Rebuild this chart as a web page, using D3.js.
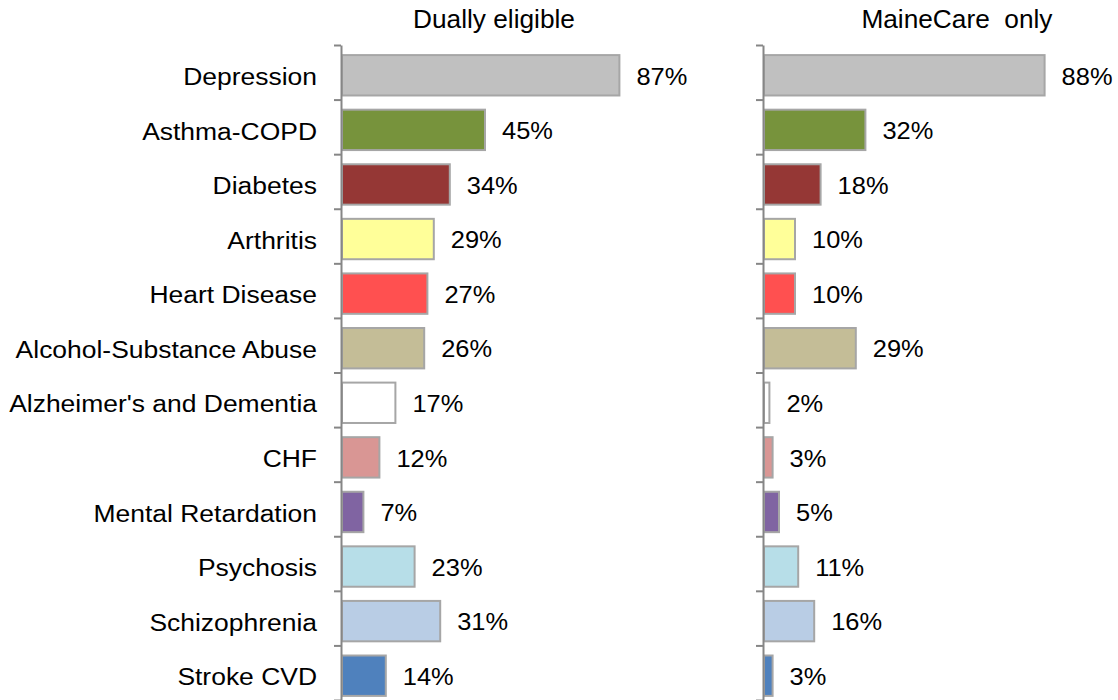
<!DOCTYPE html>
<html>
<head>
<meta charset="utf-8">
<script src="https://cdn.jsdelivr.net/npm/d3@7"></script>
<style>
  body { margin: 0; background: #fff; }
  text { font-family: Arial, "Liberation Sans", sans-serif; fill: #000; white-space: pre; }
</style>
</head>
<body>
<div id="main-chart"></div>
<script>
const categories = [
  "Depression",
  "Asthma-COPD",
  "Diabetes",
  "Arthritis",
  "Heart Disease",
  "Alcohol-Substance Abuse",
  "Alzheimer's and Dementia",
  "CHF",
  "Mental Retardation",
  "Psychosis",
  "Schizophrenia",
  "Stroke CVD",
];
const duallyEligible = [87, 45, 34, 29, 27, 26, 17, 12, 7, 23, 31, 14];
const maineCareOnly = [88, 32, 18, 10, 10, 29, 2, 3, 5, 11, 16, 3];
const barColors = [
  "#c0c0c0", "#77933c", "#953735", "#ffff99", "#ff5050", "#c4bd97",
  "#ffffff", "#d99694", "#8064a2", "#b7dee8", "#b9cde5", "#4f81bd",
];
const panelTitles = ["Dually eligible", "MaineCare  only"];

const width = 1118;
const height = 700;

const svg = d3
  .select("#main-chart")
  .append("svg")
  .attr("width", width)
  .attr("height", height);

const yBand = d3
  .scaleBand()
  .domain(categories)
  .range([45, 700])
  .paddingInner(0.26)
  .paddingOuter(0.13);

const yMid = (c) => yBand(c) + yBand.bandwidth() / 2 + 4;

// boundaries between rows for the axis ticks
const yIndex = d3.scaleLinear().domain([0, categories.length]).range([45, 700]);

const drawPanel = (values, axisX, title, titleAt) => {
  const x = d3.scaleLinear().domain([0, 100]).range([axisX, axisX + 320]);

  const g = svg.append("g");

  g.selectAll(".bar")
    .data(values)
    .join("rect")
    .attr("class", "bar")
    .attr("x", x(0) + 1)
    .attr("y", (d, i) => yBand(categories[i]) + 3)
    .attr("width", (d) => Math.max(x(d) - x(0) - 1, 2))
    .attr("height", yBand.bandwidth())
    .attr("fill", (d, i) => barColors[i])
    .attr("stroke", "#a6a6a6")
    .attr("stroke-width", 2);

  g.selectAll(".value")
    .data(values)
    .join("text")
    .attr("class", "value")
    .attr("transform", (d, i) => `translate(${x(d) + 17}, ${yMid(categories[i])}) scale(1.06, 1)`)
    .attr("dominant-baseline", "central")
    .attr("font-size", 24)
    .text((d) => d + "%");

  const axis = d3
    .axisLeft(yIndex)
    .tickValues(d3.range(0, categories.length + 1))
    .tickSize(7)
    .tickSizeOuter(0)
    .tickFormat("");

  g.append("g")
    .attr("transform", `translate(${axisX}, 0)`)
    .call(axis)
    .call((a) => {
      a.selectAll("line").attr("stroke", "#868686").attr("stroke-width", 2);
      a.select(".domain").attr("stroke", "#868686").attr("stroke-width", 2);
    });

  g.append("text")
    .attr("transform", `translate(${x(titleAt)}, 28) scale(1.05, 1)`)
    .attr("text-anchor", "middle")
    .attr("font-size", 25)
    .text(title);

  return x;
};

const xLeft = drawPanel(duallyEligible, 341, panelTitles[0], 47.8);
drawPanel(maineCareOnly, 763, panelTitles[1], 60.6);

svg
  .append("g")
  .selectAll(".cat")
  .data(categories)
  .join("text")
  .attr("class", "cat")
  .attr("transform", (d) => `translate(${xLeft(0) - 24}, ${yMid(d)}) scale(1.08, 1)`)
  .attr("dominant-baseline", "central")
  .attr("text-anchor", "end")
  .attr("font-size", 24.5)
  .text((d) => d);
</script>
</body>
</html>
